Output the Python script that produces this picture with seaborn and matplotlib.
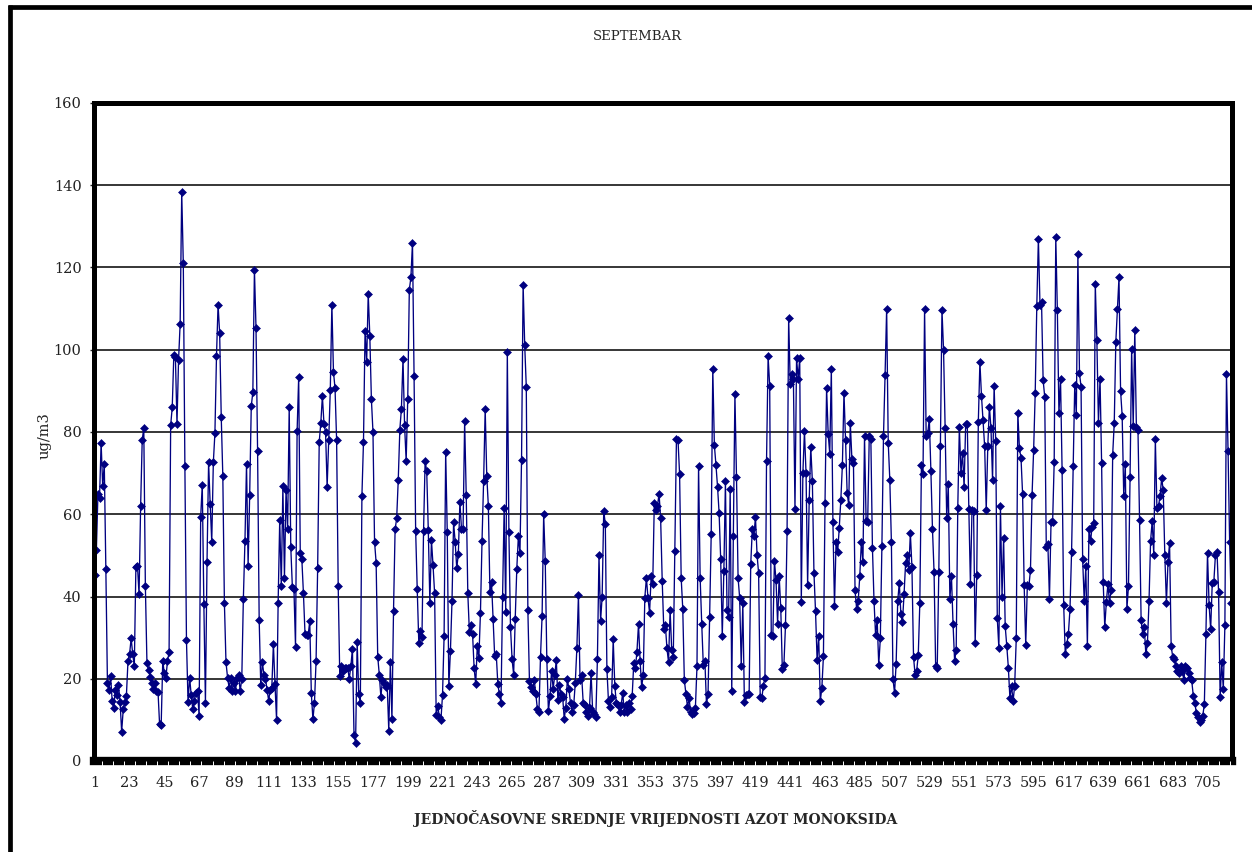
import matplotlib
matplotlib.use("Agg")
import matplotlib.pyplot as plt
from matplotlib.lines import Line2D
import numpy as np
import pandas as pd
import seaborn as sns

# jednocasovne vrijednosti, ocitano sa slike, po dijelovima
part_a = [45.2,51.3,65,64,77.4,66.8,72.3,46.6,19,17.3,20.6,14.7,13,17.3,16,18.5,14.3,7.1,12.6,14.3,15.9,24.3,26,29.8,26,23,47.2,47.5,40.5,62,78,81,42.5,23.8,22.2,20.5,19,17.5,19,17,16.8,8.9,8.8,24.3,21.3,20.3,24.3,26.4,81.6,86,98.7,98.3,82,97.5,106.3,138.3,121,71.8,29.4,14.3,20.3,16,12.6,14.7,16.6,16.9,11,59.4,67.2,38.2,14.2,48.3,72.6,62.5,53.3,72.6,79.7,98.5,111,104,83.7,69.3,38.5,24,20.3,17.8,20.3,17,19,17,20.3,21,17,20,39.5,53.4,72.3,47.5,64.8,86.3,89.7,119.5,105.3,75.3,34.4,18.5,24,21,20,17.3,14.7,17.3,17.8,28.5,18.7,10,38.5,58.5,42.5,66.8]
part_b = [44.5,65.8,56.4,86,52,42.3,41.8,27.7,80.2,93.4,50.6,49,40.8,31,30.6,30.6,34,16.5,10.1,14.2,24.3,46.9,77.6,82.2,88.7,82,80,66.7,78,90.3,111,94.7,90.6,78,42.5,20.6,23,22,22.7,22.5,22.7,20,23,27.3,6.4,4.4,29,16.2,14.2,64.4,77.6,104.6,97,113.6,103.4,88,80,53.3,48.2,25.4,21,15.6,19.7,19,18,18.5,7.4,24,10.2,36.5,56.3,59,68.4,80.6,85.7,97.8,81.6,73,88,114.6,117.6,126,93.7,56,41.8,28.7,31.7,30.2,56,73,70.5,56.2,38.5,53.7,47.6,40.8,11.2,13.3,10.8,10,16,30.4,75.2,55.7,18.2,26.7,38.9,58,53.3,46.9,50.3,63,56.5,56.4,82.6,64.7,40.8,31.4,33,31,22.6,18.7,28,25,36,53.6]
part_c = [68,85.6,69.3,62,41,43.6,34.6,25.5,26,18.7,16.2,14.2,40,61.5,36.3,99.5,55.7,32.6,24.8,21,34.6,46.8,54.7,50.5,73.3,115.8,101.2,91,36.7,19.5,18,17,19.8,16.4,12.7,12,25.4,35.3,60,48.6,24.7,12.1,15.8,22,17.6,20.8,24.6,14.8,18.4,16.2,15.6,10.3,13,20,17.4,14,12,13.5,19,27.4,40.4,19.7,21,14.2,13.5,12,11,13,21.5,12,11.5,10.7,24.7,50,34,40,60.8,57.7,22.4,14.5,13.1,15.6,29.6,18.3,14,13.5,12,13.5,16.6,12,13.5,12,14,12.7,15.8,23.8,22.5,26.5,33.3,24.4,18,21,39.7,44.5,39.7,36,44.9,43,62.8,61,62,65,59,43.8,32,33,27.4,24,36.7,27,25.4,51]
part_d = [78.2,78,69.7,44.5,37,19.7,16.3,13.2,15.2,11.8,11.4,11.6,13,23,71.8,44.5,33.4,23.3,24.4,13.8,16.3,35,55.2,95.4,76.8,72,66.7,60.3,49,30.4,46.2,68,36.7,35,66.2,17,54.7,89.2,69,44.5,39.7,23,38.3,14.3,16,16.4,16.3,47.8,56.3,54.7,59.3,50.2,45.6,15.6,15.2,18.3,20.3,73,98.4,91.3,30.6,30.4,48.6,44,33.4,45,37.2,22.3,23.4,33,56,107.8,91.6,94,93,61.2,98,93,98,38.7,70,80.2,70,42.8,63.4,76.3,68,45.8,36.4,24.6,30.4,14.6,17.7,25.5,62.7,90.7,79.6,74.7,95.3,58,37.7,53.3,50.8,56.6,63.4,72,89.6,78,65.2,62.3,82.2,73.5,72.5,41.5,37,38.9,45,53.3,48.4,79,58.4,58,79,78.4]
part_e = [51.9,39,30.6,34.4,23.3,29.8,52.4,79,93.9,110,77.4,68.4,53.3,20,16.5,23.7,38.9,43.3,35.7,33.8,40.5,48.2,50,46.4,55.4,47.2,25.3,21,22,25.7,38.5,72,69.7,110,79,79.7,83.2,70.4,56.3,45.9,23,22.7,46,76.5,109.7,100,81,59,67.4,39.4,45,33.4,24.3,27,61.6,81.2,70,75,66.6,82,82,61.3,43,61,60.8,28.6,45.2,82.5,97,88.8,82.8,76.5,61,76.7,86.2,81,68.3,91.3,77.8,34.7,27.4,62,40,54.3,32.8,28,22.7,15.2,18.3,14.6,18.3,29.8,84.6,76,73.7,65,42.8,28.3,42.7,42.5,46.5,64.7,75.7,89.6,110.7,127,111,111.5,92.6,88.6,52,52.8,39.4,58,58,72.7,127.5,109.7,84.5,93]
part_f = [70.8,38,26.1,28.4,31,37,50.9,71.8,91.4,84.2,123.4,94.3,91,49,39,47.3,28,56.4,53.4,57,57.8,116,102.4,82.2,93,72.5,43.5,32.6,38.7,43,38.5,41.5,74.4,82.2,102,109.8,117.6,90,84,64.5,72.2,37,42.5,69,100.2,81.5,104.8,81.2,80.6,58.7,34.2,31,32.5,25.9,28.7,38.9,53.6,58.3,50.2,78.2,61.5,62,64.5,68.8,65.8,50,38.4,48.3,53,28,25.3,24.9,23.2,21.9,21.5,23,22,19.7,23,22.7,21.5,20.3,19.6,15.9,14,11.6,10.8,9.5,10,11,13.8,31,50.6,38,32,43.2,43.5,50,50.9,41.2,15.5,24,17.6,33,94.1,75.5,53.3,38.3]

no_values = part_a + part_b + part_c + part_d + part_e + part_f
hours = np.arange(1, len(no_values) + 1)
y_ticks = [0, 20, 40, 60, 80, 100, 120, 140, 160]
x_labels = np.arange(1, 706, 22)

W, H = 1252, 852
sns.set_style("white")
plt.rcParams['font.family'] = ['DejaVu Serif']

fig = plt.figure(figsize=(W / 100, H / 100), dpi=100)
ax = fig.add_axes([94 / W, 1 - 761 / H, (1232 - 94) / W, (761 - 103) / H])

df = pd.DataFrame({"sat": hours, "no": no_values})
sns.lineplot(data=df, x="sat", y="no", ax=ax, color="#000080", linewidth=0.95,
             marker="D", markersize=3.7, markeredgecolor="#000080", markeredgewidth=0.4,
             errorbar=None, sort=False)

ax.set_xlim(0.5, 720.5)
ax.set_ylim(0, 160)
ax.set_yticks(y_ticks)
ax.set_xticks(x_labels)
ax.set_xticks(np.arange(5.5, 720.5, 7), minor=True)
ax.yaxis.grid(True, color="black", linewidth=1.1)
ax.set_axisbelow(True)
for s in ax.spines.values():
    s.set_linewidth(3.6)
    s.set_color("black")
ax.spines["bottom"].set_linewidth(6)
ax.tick_params(axis="y", length=3, width=1, labelsize=10.5, pad=6, left=True, labelcolor="#222222")
ax.tick_params(axis="x", which="major", length=0, labelsize=10.5, pad=11, labelcolor="#222222")
# sitni bijeli zarezi na donjoj osi
ax.tick_params(axis="x", which="minor", length=4.5, width=0.7, bottom=True, color="white")
ax.xaxis.set_zorder(3)

ax.set_xlabel("JEDNOČASOVNE SREDNJE VRIJEDNOSTI AZOT MONOKSIDA", fontweight="bold", fontsize=10, labelpad=14,
              x=(656 - 94) / (1232 - 94))
ax.set_ylabel("ug/m3", fontsize=10.5, labelpad=1.5, y=(761 - 436) / (761 - 103))
fig.text(637 / W, 1 - 37 / H, "SEPTEMBAR", ha="center", va="center", fontsize=9.5)

# okvir oko cijelog grafika
fig.add_artist(Line2D([9.7 / W, 9.7 / W], [0, 1 - 4.7 / H], color="black", linewidth=3.4, solid_capstyle="butt"))
fig.add_artist(Line2D([8 / W, 1], [1 - 7 / H, 1 - 7 / H], color="black", linewidth=3.4, solid_capstyle="butt"))

fig.savefig("out.png", dpi=100)
